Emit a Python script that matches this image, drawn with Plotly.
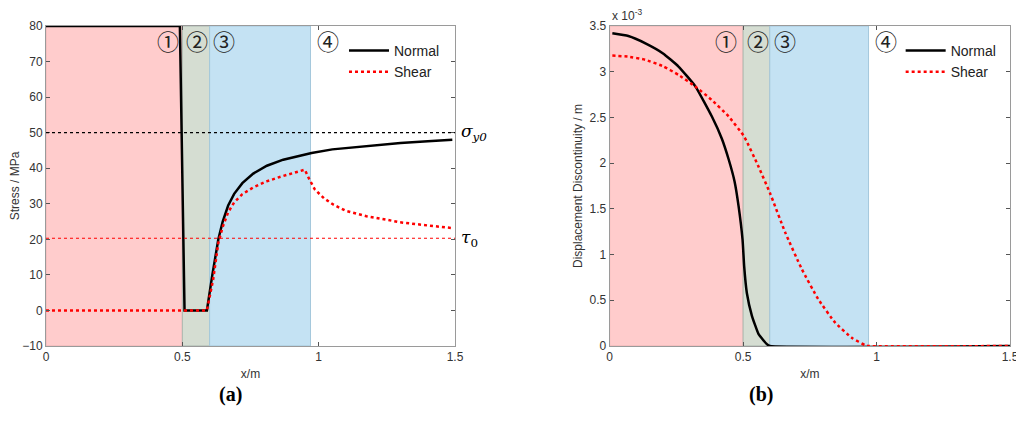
import plotly.graph_objects as go
from plotly.subplots import make_subplots

# (a) stress along the fault, MPa
stress_x_normal = [0, 0.491, 0.508, 0.59, 0.61, 0.632, 0.648, 0.668, 0.69, 0.72, 0.76,
                   0.81, 0.87, 0.93, 0.974, 1.05, 1.175, 1.3, 1.4, 1.49]
stress_normal = [80, 80, 0, 0, 10, 20, 25, 29.5, 32.8, 35.8, 38.5,
                 40.7, 42.4, 43.6, 44.3, 45.3, 46.3, 47.1, 47.6, 48]
stress_x_shear = [0, 0.59, 0.613, 0.632, 0.648, 0.668, 0.69, 0.72, 0.76, 0.809, 0.86, 0.906,
                  0.949, 0.965, 0.986, 1.02, 1.053, 1.1, 1.175, 1.25, 1.297, 1.4, 1.487]
stress_shear = [0, 0, 8.7, 19, 23.5, 27.6, 30.4, 32.7, 34.6, 36.3, 37.6, 38.7,
                39.6, 37, 34, 31.5, 29.8, 28, 26.5, 25.5, 24.8, 23.9, 23.2]
sigma_y0 = 50
tau_0 = 20.3

# (b) displacement discontinuity, x 10^-3 m
disp_x_normal = [0.01, 0.07, 0.134, 0.2, 0.258, 0.321, 0.383, 0.42, 0.446, 0.468, 0.483,
                 0.498, 0.504, 0.514, 0.533, 0.558, 0.589, 0.6, 1.5]
disp_normal = [3.42, 3.39, 3.31, 3.2, 3.056, 2.84, 2.51, 2.27, 2.04, 1.8, 1.53,
               1.16, 0.87, 0.58, 0.33, 0.13, 0.02, 0, 0]
disp_x_shear = [0.01, 0.07, 0.134, 0.2, 0.258, 0.32, 0.383, 0.446, 0.504, 0.558, 0.601,
                0.658, 0.72, 0.782, 0.845, 0.907, 0.957, 0.97, 1.5]
disp_shear = [3.176, 3.165, 3.13, 3.06, 2.965, 2.84, 2.69, 2.51, 2.29, 1.96, 1.67,
              1.24, 0.84, 0.51, 0.255, 0.09, 0.01, 0, 0]

# zones 1-4 along x
zone_edges = [0, 0.5, 0.6, 0.97]
zone_colors = ["rgba(255,204,204,1)", "rgba(213,221,210,1)", "rgba(196,226,243,1)"]
zone_edge_colors = ["rgb(235,180,180)", "rgb(170,185,175)", "rgb(165,200,220)"]
zone_labels = ["\u2460", "\u2461", "\u2462", "\u2463"]
zone_label_x_a = [0.447, 0.553, 0.654, 1.033]
zone_label_x_b = [0.437, 0.556, 0.658, 1.037]

frame = "#9a9a9a"
tick_font = dict(family="Liberation Sans, Arial", size=12, color="#333")

fig = make_subplots(rows=1, cols=2)

# (a) has sharp corners, keep it linear; (b) is smooth
fig.add_trace(go.Scatter(x=stress_x_normal, y=stress_normal, mode="lines", name="Normal",
                         line=dict(color="black", width=2.5), legend="legend"), 1, 1)
fig.add_trace(go.Scatter(x=stress_x_shear, y=stress_shear, mode="lines", name="Shear",
                         line=dict(color="red", width=2.5, dash="dot"), legend="legend"), 1, 1)
fig.add_trace(go.Scatter(x=disp_x_normal, y=disp_normal, mode="lines", name="Normal",
                         line=dict(color="black", width=2.5, shape="spline", smoothing=0.4),
                         legend="legend2"), 1, 2)
fig.add_trace(go.Scatter(x=disp_x_shear, y=disp_shear, mode="lines", name="Shear",
                         line=dict(color="red", width=2.5, dash="dot", shape="spline",
                                   smoothing=0.4), legend="legend2"), 1, 2)

for xr, yr in (("x", "y"), ("x2", "y2")):
    for i in range(3):
        fig.add_shape(type="rect", xref=xr, yref=yr + " domain",
                      x0=zone_edges[i], x1=zone_edges[i + 1], y0=0, y1=1,
                      fillcolor=zone_colors[i], line=dict(color=zone_edge_colors[i], width=1),
                      layer="below")

# reference levels in (a)
fig.add_shape(type="line", xref="x", yref="y", x0=0, x1=1.5, y0=sigma_y0, y1=sigma_y0,
              line=dict(color="black", width=1.3, dash="dot"))
fig.add_shape(type="line", xref="x", yref="y", x0=0, x1=1.5, y0=tau_0, y1=tau_0,
              line=dict(color="red", width=1.2, dash="dot"))
fig.add_annotation(xref="x domain", yref="y", x=1.01, y=sigma_y0, xanchor="left",
                   text="<i>σ<sub>y0</sub></i>", showarrow=False,
                   font=dict(family="DejaVu Serif", size=17, color="black"))
fig.add_annotation(xref="x domain", yref="y", x=1.01, y=tau_0, xanchor="left",
                   text="<i>τ</i><sub>0</sub>", showarrow=False,
                   font=dict(family="DejaVu Serif", size=17, color="black"))

for xr, xs in (("x", zone_label_x_a), ("x2", zone_label_x_b)):
    for lab, xv in zip(zone_labels, xs):
        fig.add_annotation(xref=xr, yref="paper", x=xv, y=0.922, yanchor="middle",
                           text=lab, showarrow=False,
                           font=dict(family="Noto Sans CJK SC", size=22, color="#222"))

fig.add_annotation(xref="paper", yref="paper", x=0.5922, y=0.958, xanchor="left",
                   yanchor="bottom", text="x 10<sup>-3</sup>", showarrow=False,
                   font=dict(family="Liberation Sans, Arial", size=12, color="#333"))

fig.add_annotation(xref="paper", yref="paper", x=0.2057, y=0.022, text="<b>(a)</b>",
                   showarrow=False, font=dict(family="Liberation Serif", size=20, color="black"))
fig.add_annotation(xref="paper", yref="paper", x=0.7549, y=0.022, text="<b>(b)</b>",
                   showarrow=False, font=dict(family="Liberation Serif", size=20, color="black"))

axis_common = dict(showgrid=False, zeroline=False, showline=True, linecolor=frame,
                   linewidth=1, mirror="ticks", ticks="inside", ticklen=4, tickcolor="#555",
                   tickfont=tick_font, automargin=False)

fig.update_xaxes(axis_common, range=[0, 1.5], tickvals=[0, 0.5, 1, 1.5],
                 ticktext=["0", "0.5", "1", "1.5"], ticklabeloverflow="allow",
                 title=dict(text="x/m", font=tick_font, standoff=6))
fig.update_yaxes(axis_common)
fig.update_xaxes(domain=[0.0374, 0.44], row=1, col=1)
fig.update_xaxes(domain=[0.5922, 0.9862], row=1, col=2)
fig.update_yaxes(domain=[0.1736, 0.956], range=[-10, 80], dtick=10,
                 title=dict(text="Stress / MPa", font=tick_font, standoff=4), row=1, col=1)
fig.update_yaxes(domain=[0.1736, 0.956], range=[0, 3.5], dtick=0.5,
                 title=dict(text="Displacement Discontinuity / m", font=tick_font, standoff=4),
                 row=1, col=2)

legend_common = dict(bgcolor="rgba(0,0,0,0)", font=dict(family="Liberation Sans, Arial",
                     size=14, color="#222"), xanchor="left", yanchor="top",
                     tracegroupgap=0, itemwidth=40)
fig.update_layout(
    width=1016, height=409,
    margin=dict(l=0, r=0, t=0, b=0),
    paper_bgcolor="white", plot_bgcolor="white",
    legend=dict(legend_common, x=0.3307, y=0.934),
    legend2=dict(legend_common, x=0.8786, y=0.934),
)

fig.write_html("out.html")
